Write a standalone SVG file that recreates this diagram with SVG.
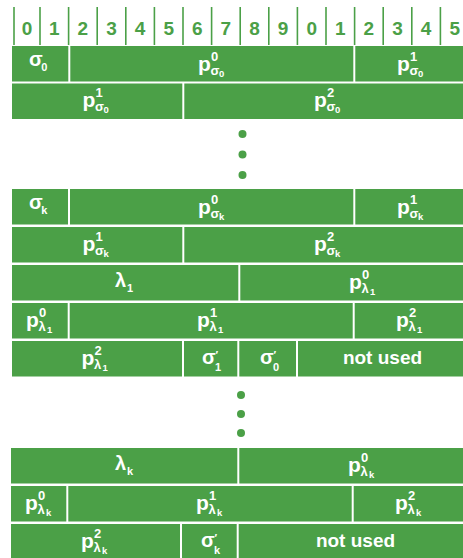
<svg xmlns="http://www.w3.org/2000/svg" width="463" height="558" viewBox="0 0 463 558">
<style>
.c{fill:#4ba047}
.hl{stroke:#4ba047;stroke-width:1.6}
.d{fill:#4ba047;font-family:"Liberation Sans",Arial,sans-serif;font-weight:bold;font-size:19px;text-anchor:middle}
text{font-family:"Liberation Sans",Arial,sans-serif;font-weight:bold;fill:#fff}
.m{font-size:21px}
.g{font-size:20px}
.sp{font-size:13px}
.sb{font-size:13px}
.ss{font-size:9.5px}
.s1{font-size:11px}
.pr{font-size:11px}
.nu{font-size:19px;text-anchor:middle}
.dot{fill:#4ba047}
</style>
<rect width="463" height="558" fill="#fff"/>

<g id="header">
<g class="hl">
<line x1="14" y1="7" x2="14" y2="45"/>
<line x1="40" y1="7" x2="40" y2="45"/>
<line x1="68.6" y1="7" x2="68.6" y2="45"/>
<line x1="97.2" y1="7" x2="97.2" y2="45"/>
<line x1="125.8" y1="7" x2="125.8" y2="45"/>
<line x1="154.4" y1="7" x2="154.4" y2="45"/>
<line x1="183" y1="7" x2="183" y2="45"/>
<line x1="211.6" y1="7" x2="211.6" y2="45"/>
<line x1="240.2" y1="7" x2="240.2" y2="45"/>
<line x1="268.8" y1="7" x2="268.8" y2="45"/>
<line x1="297.4" y1="7" x2="297.4" y2="45"/>
<line x1="326" y1="7" x2="326" y2="45"/>
<line x1="354.6" y1="7" x2="354.6" y2="45"/>
<line x1="383.2" y1="7" x2="383.2" y2="45"/>
<line x1="411.8" y1="7" x2="411.8" y2="45"/>
<line x1="440.4" y1="7" x2="440.4" y2="45"/>
</g>
<text class="d" x="27" y="35">0</text>
<text class="d" x="54.3" y="35">1</text>
<text class="d" x="82.9" y="35">2</text>
<text class="d" x="111.5" y="35">3</text>
<text class="d" x="140.1" y="35">4</text>
<text class="d" x="168.7" y="35">5</text>
<text class="d" x="197.3" y="35">6</text>
<text class="d" x="225.9" y="35">7</text>
<text class="d" x="254.5" y="35">8</text>
<text class="d" x="283.1" y="35">9</text>
<text class="d" x="311.7" y="35">0</text>
<text class="d" x="340.3" y="35">1</text>
<text class="d" x="368.9" y="35">2</text>
<text class="d" x="397.5" y="35">3</text>
<text class="d" x="426.1" y="35">4</text>
<text class="d" x="454.7" y="35">5</text>
</g>

<!-- Row 1 -->
<g id="r1-sigma0"><rect class="c" x="12" y="46" width="56.3" height="35.5"/>
<text transform="translate(29,66)"><tspan class="g" x="0" y="0">σ</tspan><tspan class="s1" x="12.2" y="5">0</tspan></text></g>
<g id="r1-p0s0"><rect class="c" x="70.3" y="46" width="283" height="35.5"/>
<text transform="translate(198,71)"><tspan class="m" x="0" y="0">p</tspan><tspan class="sp" x="13" y="-10.5">0</tspan><tspan class="sb" x="12.6" y="3.5">σ</tspan><tspan class="ss" x="21" y="5.5">0</tspan></text></g>
<g id="r1-p1s0"><rect class="c" x="355.3" y="46" width="110" height="35.5"/>
<text transform="translate(397,71)"><tspan class="m" x="0" y="0">p</tspan><tspan class="sp" x="13" y="-10.5">1</tspan><tspan class="sb" x="12.6" y="3.5">σ</tspan><tspan class="ss" x="21" y="5.5">0</tspan></text></g>

<!-- Row 2 -->
<g id="r2-p1s0"><rect class="c" x="12" y="83.5" width="170.3" height="35.5"/>
<text transform="translate(82.5,107)"><tspan class="m" x="0" y="0">p</tspan><tspan class="sp" x="13" y="-10.5">1</tspan><tspan class="sb" x="12.6" y="3.5">σ</tspan><tspan class="ss" x="21" y="5.5">0</tspan></text></g>
<g id="r2-p2s0"><rect class="c" x="184.3" y="83.5" width="281" height="35.5"/>
<text transform="translate(314,107)"><tspan class="m" x="0" y="0">p</tspan><tspan class="sp" x="13" y="-10.5">2</tspan><tspan class="sb" x="12.6" y="3.5">σ</tspan><tspan class="ss" x="21" y="5.5">0</tspan></text></g>

<g id="dots1">
<circle class="dot" cx="242.5" cy="134" r="4"/>
<circle class="dot" cx="242.5" cy="154.5" r="4"/>
<circle class="dot" cx="242.5" cy="175" r="4"/>
</g>

<!-- Row 3 -->
<g id="r3-sigmak"><rect class="c" x="12" y="189" width="56" height="35.5"/>
<text transform="translate(29,209)"><tspan class="g" x="0" y="0">σ</tspan><tspan class="s1" x="12.2" y="5">k</tspan></text></g>
<g id="r3-p0sk"><rect class="c" x="70" y="189" width="283.3" height="35.5"/>
<text transform="translate(198,214)"><tspan class="m" x="0" y="0">p</tspan><tspan class="sp" x="13" y="-10.5">0</tspan><tspan class="sb" x="12.6" y="3.5">σ</tspan><tspan class="ss" x="21" y="5.5">k</tspan></text></g>
<g id="r3-p1sk"><rect class="c" x="355.3" y="189" width="110" height="35.5"/>
<text transform="translate(397,214)"><tspan class="m" x="0" y="0">p</tspan><tspan class="sp" x="13" y="-10.5">1</tspan><tspan class="sb" x="12.6" y="3.5">σ</tspan><tspan class="ss" x="21" y="5.5">k</tspan></text></g>

<!-- Row 4 -->
<g id="r4-p1sk"><rect class="c" x="12" y="227" width="170.3" height="35.5"/>
<text transform="translate(82.5,251)"><tspan class="m" x="0" y="0">p</tspan><tspan class="sp" x="13" y="-10.5">1</tspan><tspan class="sb" x="12.6" y="3.5">σ</tspan><tspan class="ss" x="21" y="5.5">k</tspan></text></g>
<g id="r4-p2sk"><rect class="c" x="184.3" y="227" width="281" height="35.5"/>
<text transform="translate(314,251)"><tspan class="m" x="0" y="0">p</tspan><tspan class="sp" x="13" y="-10.5">2</tspan><tspan class="sb" x="12.6" y="3.5">σ</tspan><tspan class="ss" x="21" y="5.5">k</tspan></text></g>

<!-- Row 5 -->
<g id="r5-lambda1"><rect class="c" x="12" y="265" width="226.3" height="35.5"/>
<text transform="translate(115,287)"><tspan class="g" x="0" y="0">λ</tspan><tspan class="s1" x="12" y="5">1</tspan></text></g>
<g id="r5-p0l1"><rect class="c" x="240.3" y="265" width="225" height="35.5"/>
<text transform="translate(349,289)"><tspan class="m" x="0" y="0">p</tspan><tspan class="sp" x="13" y="-10.5">0</tspan><tspan class="sb" x="12.6" y="3.5">λ</tspan><tspan class="ss" x="21" y="5.5">1</tspan></text></g>

<!-- Row 6 -->
<g id="r6-p0l1"><rect class="c" x="12" y="303" width="55.7" height="35.5"/>
<text transform="translate(26,327)"><tspan class="m" x="0" y="0">p</tspan><tspan class="sp" x="13" y="-10.5">0</tspan><tspan class="sb" x="12.6" y="3.5">λ</tspan><tspan class="ss" x="21" y="5.5">1</tspan></text></g>
<g id="r6-p1l1"><rect class="c" x="69.7" y="303" width="283" height="35.5"/>
<text transform="translate(197,327)"><tspan class="m" x="0" y="0">p</tspan><tspan class="sp" x="13" y="-10.5">1</tspan><tspan class="sb" x="12.6" y="3.5">λ</tspan><tspan class="ss" x="21" y="5.5">1</tspan></text></g>
<g id="r6-p2l1"><rect class="c" x="354.7" y="303" width="110" height="35.5"/>
<text transform="translate(396,327)"><tspan class="m" x="0" y="0">p</tspan><tspan class="sp" x="13" y="-10.5">2</tspan><tspan class="sb" x="12.6" y="3.5">λ</tspan><tspan class="ss" x="21" y="5.5">1</tspan></text></g>

<!-- Row 7 -->
<g id="r7-p2l1"><rect class="c" x="12" y="341" width="170" height="35.5"/>
<text transform="translate(81.5,365)"><tspan class="m" x="0" y="0">p</tspan><tspan class="sp" x="13" y="-10.5">2</tspan><tspan class="sb" x="12.6" y="3.5">λ</tspan><tspan class="ss" x="21" y="5.5">1</tspan></text></g>
<g id="r7-sigma1p"><rect class="c" x="184" y="341" width="53.3" height="35.5"/>
<text transform="translate(202,364)"><tspan class="g" x="0" y="0">σ</tspan><tspan class="pr" x="13.5" y="-5.5">′</tspan><tspan class="s1" x="13" y="6.5">1</tspan></text></g>
<g id="r7-sigma0p"><rect class="c" x="239.3" y="341" width="56.7" height="35.5"/>
<text transform="translate(260,364)"><tspan class="g" x="0" y="0">σ</tspan><tspan class="pr" x="13.5" y="-5.5">′</tspan><tspan class="s1" x="13" y="6.5">0</tspan></text></g>
<g id="r7-unused"><rect class="c" x="298" y="341" width="167" height="35.5"/>
<text class="nu" x="382.5" y="364">not used</text></g>

<g id="dots2">
<circle class="dot" cx="241" cy="395" r="4"/>
<circle class="dot" cx="241" cy="414" r="4"/>
<circle class="dot" cx="241" cy="433" r="4"/>
</g>

<!-- Row 8 -->
<g id="r8-lambdak"><rect class="c" x="11" y="448" width="226.3" height="35.5"/>
<text transform="translate(115,470)"><tspan class="g" x="0" y="0">λ</tspan><tspan class="s1" x="12" y="5">k</tspan></text></g>
<g id="r8-p0lk"><rect class="c" x="239.3" y="448" width="226" height="35.5"/>
<text transform="translate(348,472)"><tspan class="m" x="0" y="0">p</tspan><tspan class="sp" x="13" y="-10.5">0</tspan><tspan class="sb" x="12.6" y="3.5">λ</tspan><tspan class="ss" x="21" y="5.5">k</tspan></text></g>

<!-- Row 9 -->
<g id="r9-p0lk"><rect class="c" x="11" y="486" width="55.3" height="35.5"/>
<text transform="translate(25,510)"><tspan class="m" x="0" y="0">p</tspan><tspan class="sp" x="13" y="-10.5">0</tspan><tspan class="sb" x="12.6" y="3.5">λ</tspan><tspan class="ss" x="21" y="5.5">k</tspan></text></g>
<g id="r9-p1lk"><rect class="c" x="68.3" y="486" width="283.4" height="35.5"/>
<text transform="translate(196,510)"><tspan class="m" x="0" y="0">p</tspan><tspan class="sp" x="13" y="-10.5">1</tspan><tspan class="sb" x="12.6" y="3.5">λ</tspan><tspan class="ss" x="21" y="5.5">k</tspan></text></g>
<g id="r9-p2lk"><rect class="c" x="353.7" y="486" width="111" height="35.5"/>
<text transform="translate(395,510)"><tspan class="m" x="0" y="0">p</tspan><tspan class="sp" x="13" y="-10.5">2</tspan><tspan class="sb" x="12.6" y="3.5">λ</tspan><tspan class="ss" x="21" y="5.5">k</tspan></text></g>

<!-- Row 10 -->
<g id="r10-p2lk"><rect class="c" x="11" y="524" width="169" height="36"/>
<text transform="translate(81,548)"><tspan class="m" x="0" y="0">p</tspan><tspan class="sp" x="13" y="-10.5">2</tspan><tspan class="sb" x="12.6" y="3.5">λ</tspan><tspan class="ss" x="21" y="5.5">k</tspan></text></g>
<g id="r10-sigmakp"><rect class="c" x="182" y="524" width="54.7" height="36"/>
<text transform="translate(201,547)"><tspan class="g" x="0" y="0">σ</tspan><tspan class="pr" x="13.5" y="-5.5">′</tspan><tspan class="s1" x="13" y="6.5">k</tspan></text></g>
<g id="r10-unused"><rect class="c" x="238.7" y="524" width="226.3" height="36"/>
<text class="nu" x="355.5" y="547">not used</text></g>

<g id="connectors"/>
</svg>
